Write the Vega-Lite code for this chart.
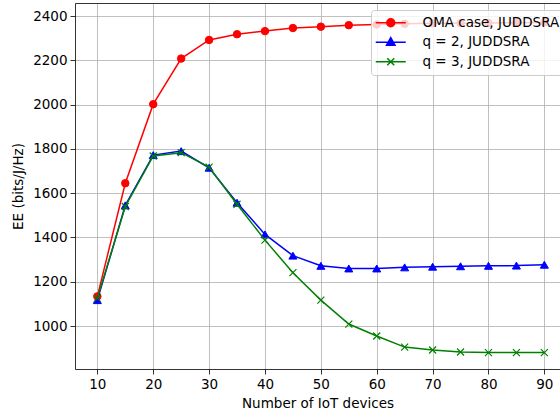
{
  "$schema": "https://vega.github.io/schema/vega-lite/v6.json",
  "width": 485,
  "height": 366,
  "autosize": {"type": "none"},
  "padding": {"left": 75, "top": 3, "right": 0, "bottom": 47},
  "background": "white",
  "config": {
    "view": {"stroke": null},
    "font": "DejaVu Sans",
    "axis": {
      "labelFont": "DejaVu Sans",
      "labelFontSize": 13.5,
      "labelColor": "#000000",
      "titleFont": "DejaVu Sans",
      "titleFontSize": 13.5,
      "titleFontWeight": "normal",
      "titleColor": "#000000",
      "tickColor": "#000000",
      "tickSize": 5,
      "tickWidth": 0.8,
      "domainColor": "#000000",
      "domainWidth": 0.8,
      "gridColor": "#b0b0b0",
      "gridWidth": 0.8,
      "labelPadding": 3
    }
  },
  "data": {
    "values": [
      {"series": "OMA case, JUDDSRA", "x": 10, "y": 1134},
      {"series": "OMA case, JUDDSRA", "x": 15, "y": 1645},
      {"series": "OMA case, JUDDSRA", "x": 20, "y": 2002},
      {"series": "OMA case, JUDDSRA", "x": 25, "y": 2208},
      {"series": "OMA case, JUDDSRA", "x": 30, "y": 2292},
      {"series": "OMA case, JUDDSRA", "x": 35, "y": 2318},
      {"series": "OMA case, JUDDSRA", "x": 40, "y": 2332},
      {"series": "OMA case, JUDDSRA", "x": 45, "y": 2346},
      {"series": "OMA case, JUDDSRA", "x": 50, "y": 2352},
      {"series": "OMA case, JUDDSRA", "x": 55, "y": 2359},
      {"series": "OMA case, JUDDSRA", "x": 60, "y": 2362},
      {"series": "OMA case, JUDDSRA", "x": 65, "y": 2365},
      {"series": "OMA case, JUDDSRA", "x": 70, "y": 2367},
      {"series": "OMA case, JUDDSRA", "x": 75, "y": 2368},
      {"series": "OMA case, JUDDSRA", "x": 80, "y": 2369},
      {"series": "OMA case, JUDDSRA", "x": 85, "y": 2370},
      {"series": "OMA case, JUDDSRA", "x": 90, "y": 2371},
      {"series": "q = 2, JUDDSRA", "x": 10, "y": 1117},
      {"series": "q = 2, JUDDSRA", "x": 15, "y": 1545},
      {"series": "q = 2, JUDDSRA", "x": 20, "y": 1772},
      {"series": "q = 2, JUDDSRA", "x": 25, "y": 1790},
      {"series": "q = 2, JUDDSRA", "x": 30, "y": 1715},
      {"series": "q = 2, JUDDSRA", "x": 35, "y": 1557},
      {"series": "q = 2, JUDDSRA", "x": 40, "y": 1414},
      {"series": "q = 2, JUDDSRA", "x": 45, "y": 1318},
      {"series": "q = 2, JUDDSRA", "x": 50, "y": 1272},
      {"series": "q = 2, JUDDSRA", "x": 55, "y": 1260},
      {"series": "q = 2, JUDDSRA", "x": 60, "y": 1260},
      {"series": "q = 2, JUDDSRA", "x": 65, "y": 1265},
      {"series": "q = 2, JUDDSRA", "x": 70, "y": 1268},
      {"series": "q = 2, JUDDSRA", "x": 75, "y": 1270},
      {"series": "q = 2, JUDDSRA", "x": 80, "y": 1272},
      {"series": "q = 2, JUDDSRA", "x": 85, "y": 1273},
      {"series": "q = 2, JUDDSRA", "x": 90, "y": 1277},
      {"series": "q = 3, JUDDSRA", "x": 10, "y": 1125},
      {"series": "q = 3, JUDDSRA", "x": 15, "y": 1540},
      {"series": "q = 3, JUDDSRA", "x": 20, "y": 1768},
      {"series": "q = 3, JUDDSRA", "x": 25, "y": 1783},
      {"series": "q = 3, JUDDSRA", "x": 30, "y": 1718},
      {"series": "q = 3, JUDDSRA", "x": 35, "y": 1550},
      {"series": "q = 3, JUDDSRA", "x": 40, "y": 1388},
      {"series": "q = 3, JUDDSRA", "x": 45, "y": 1241},
      {"series": "q = 3, JUDDSRA", "x": 50, "y": 1117},
      {"series": "q = 3, JUDDSRA", "x": 55, "y": 1009},
      {"series": "q = 3, JUDDSRA", "x": 60, "y": 955},
      {"series": "q = 3, JUDDSRA", "x": 65, "y": 905},
      {"series": "q = 3, JUDDSRA", "x": 70, "y": 892},
      {"series": "q = 3, JUDDSRA", "x": 75, "y": 883},
      {"series": "q = 3, JUDDSRA", "x": 80, "y": 880},
      {"series": "q = 3, JUDDSRA", "x": 85, "y": 880},
      {"series": "q = 3, JUDDSRA", "x": 90, "y": 880}
    ]
  },
  "encoding": {
    "x": {
      "field": "x",
      "type": "quantitative",
      "scale": {"domain": [6, 92.8], "nice": false, "zero": false},
      "axis": {"orient": "bottom", "title": "Number of IoT devices", "values": [10, 20, 30, 40, 50, 60, 70, 80, 90], "format": "d", "titlePadding": 6}
    },
    "y": {
      "field": "y",
      "type": "quantitative",
      "scale": {"domain": [806, 2459], "nice": false, "zero": false},
      "axis": {"orient": "left", "title": "EE (bits/J/Hz)", "values": [1000, 1200, 1400, 1600, 1800, 2000, 2200, 2400], "format": "d", "titlePadding": 7}
    }
  },
  "layer": [
    {
      "layer": [
        {
          "transform": [{"filter": "datum.series === 'OMA case, JUDDSRA'"}],
          "mark": {"type": "line", "color": "#ff0000", "strokeWidth": 1.5},
          "encoding": {}
        },
        {
          "transform": [{"filter": "datum.series === 'OMA case, JUDDSRA'"}],
          "mark": {"type": "point", "shape": "circle", "filled": true, "color": "#ff0000", "stroke": "#ff0000", "strokeWidth": 1, "size": 56, "opacity": 1},
          "encoding": {}
        },
        {
          "transform": [{"filter": "datum.series === 'q = 2, JUDDSRA'"}],
          "mark": {"type": "line", "color": "#0000ff", "strokeWidth": 1.5},
          "encoding": {}
        },
        {
          "transform": [{"filter": "datum.series === 'q = 2, JUDDSRA'"}],
          "mark": {"type": "point", "shape": "triangle-up", "filled": true, "color": "#0000ff", "stroke": "#0000ff", "strokeWidth": 1, "size": 64, "opacity": 1},
          "encoding": {}
        },
        {
          "transform": [{"filter": "datum.series === 'q = 3, JUDDSRA'"}],
          "mark": {"type": "line", "color": "#008000", "strokeWidth": 1.5},
          "encoding": {}
        },
        {
          "transform": [{"filter": "datum.series === 'q = 3, JUDDSRA'"}],
          "mark": {"type": "point", "shape": "M-1,-1L1,1M-1,1L1,-1", "filled": false, "color": "#008000", "strokeWidth": 1.2, "size": 49, "opacity": 1},
          "encoding": {}
        }
      ]
    },
    {
      "transform": [{"filter": "datum.x > 1000"}],
      "mark": {"type": "point", "filled": true, "opacity": 1, "strokeWidth": 1.5},
      "encoding": {
        "x": {
          "field": "x",
          "type": "quantitative",
          "scale": {"domain": [6, 92.8], "nice": false, "zero": false},
          "axis": {"orient": "top", "title": null, "labels": false, "ticks": false, "grid": false, "domain": true}
        },
        "shape": {
          "field": "series",
          "type": "nominal",
          "scale": {
            "domain": ["OMA case, JUDDSRA", "q = 2, JUDDSRA", "q = 3, JUDDSRA"],
            "range": [
              "M-3,0L3,0M0.8,0A0.8,0.8,0,1,1,-0.8,0A0.8,0.8,0,1,1,0.8,0Z",
              "M-3,0L3,0M0,-0.95L0.85,0.6L-0.85,0.6Z",
              "M-3,0L3,0M-0.7,-0.7L0.7,0.7M-0.7,0.7L0.7,-0.7"
            ]
          },
          "legend": {"title": null, "orient": "none", "legendX": 296, "legendY": 7, "symbolSize": 100, "symbolStrokeWidth": 1.5, "symbolOffset": 7, "labelOffset": 25, "padding": 6, "rowPadding": 4.5, "labelFontSize": 13.5, "labelFont": "DejaVu Sans", "labelColor": "#000000", "labelLimit": 200, "fillColor": "rgba(255,255,255,0.8)", "strokeColor": "#cccccc", "cornerRadius": 3}
        },
        "fill": {
          "field": "series",
          "type": "nominal",
          "scale": {"domain": ["OMA case, JUDDSRA", "q = 2, JUDDSRA", "q = 3, JUDDSRA"], "range": ["#ff0000", "#0000ff", "#008000"]},
          "legend": {"title": null, "orient": "none", "legendX": 296, "legendY": 7, "symbolSize": 100, "symbolStrokeWidth": 1.5, "symbolOffset": 7, "labelOffset": 25, "padding": 6, "rowPadding": 4.5, "labelFontSize": 13.5, "labelFont": "DejaVu Sans", "labelColor": "#000000", "labelLimit": 200, "fillColor": "rgba(255,255,255,0.8)", "strokeColor": "#cccccc", "cornerRadius": 3}
        },
        "stroke": {
          "field": "series",
          "type": "nominal",
          "scale": {"domain": ["OMA case, JUDDSRA", "q = 2, JUDDSRA", "q = 3, JUDDSRA"], "range": ["#ff0000", "#0000ff", "#008000"]},
          "legend": {"title": null, "orient": "none", "legendX": 296, "legendY": 7, "symbolSize": 100, "symbolStrokeWidth": 1.5, "symbolOffset": 7, "labelOffset": 25, "padding": 6, "rowPadding": 4.5, "labelFontSize": 13.5, "labelFont": "DejaVu Sans", "labelColor": "#000000", "labelLimit": 200, "fillColor": "rgba(255,255,255,0.8)", "strokeColor": "#cccccc", "cornerRadius": 3}
        }
      }
    }
  ]
}
